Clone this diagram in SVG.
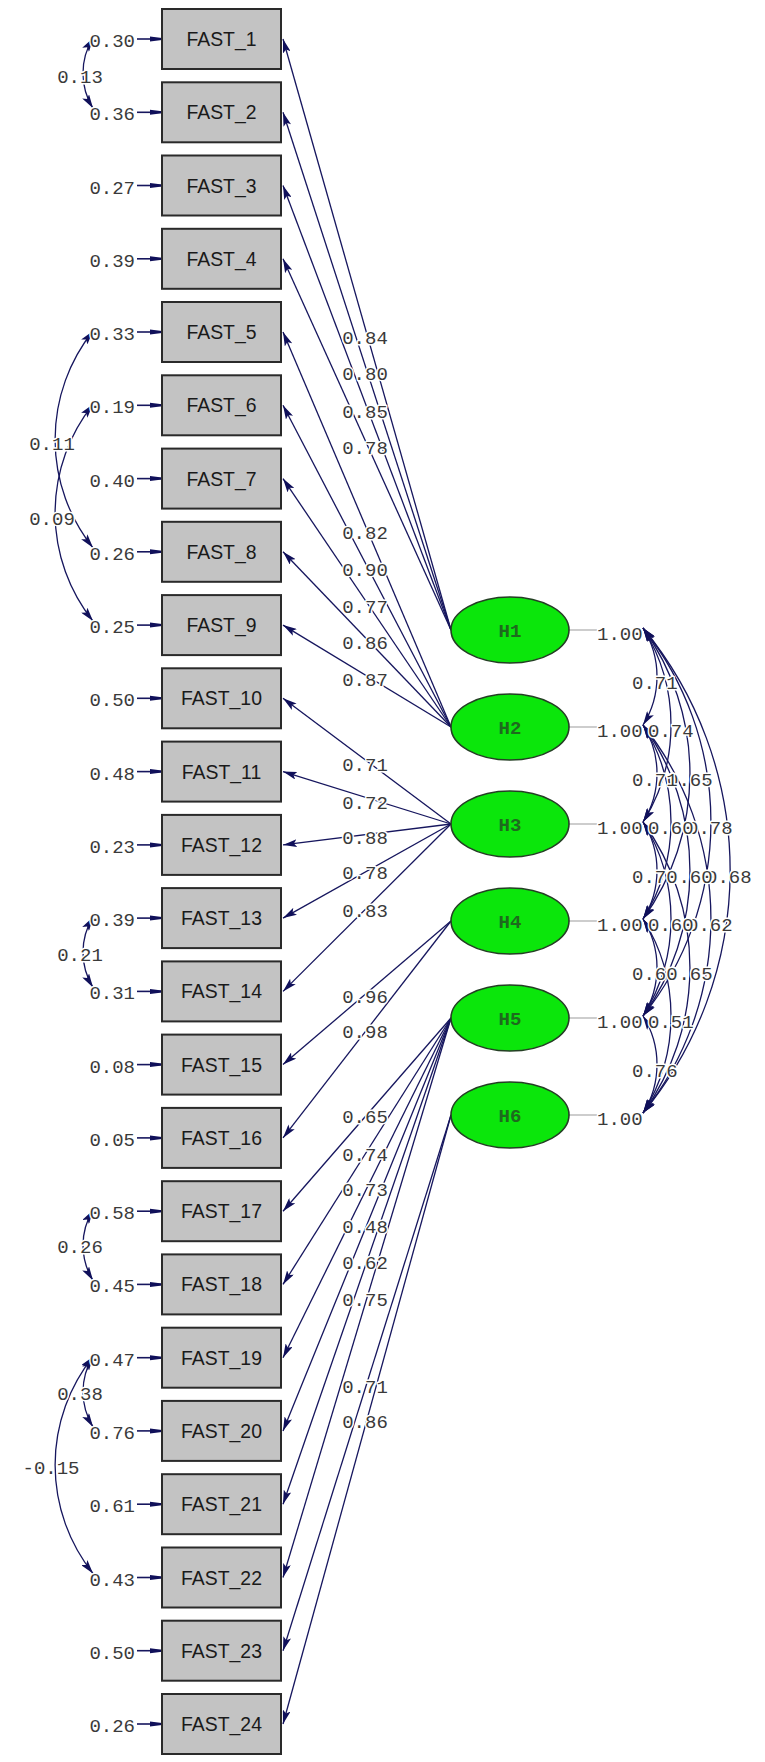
<svg xmlns="http://www.w3.org/2000/svg" width="765" height="1762" viewBox="0 0 765 1762">
<defs>
<style>
.box{fill:#c3c3c3;stroke:#2a2a2a;stroke-width:2}
.bt{font-family:"Liberation Sans",Arial,sans-serif;font-size:19.4px;fill:#1a1a1a;text-anchor:middle}
.lat{fill:#0be60b;stroke:#243f24;stroke-width:1.6}
.lt{font-family:"Liberation Mono","Courier New",monospace;font-weight:bold;font-size:19px;fill:#1e6a1e;text-anchor:middle}
.ld{stroke:#16165e;stroke-width:1.3;fill:none}
.ev{stroke:#16165e;stroke-width:1.6;fill:none}
.cv{stroke:#16165e;stroke-width:1.3;fill:none}
.vl{stroke:#bdbdbd;stroke-width:1.5}
.n{font-family:"Liberation Mono","Courier New",monospace;font-size:19px;fill:#3a3a3a;stroke:#fff;stroke-width:3;paint-order:stroke;stroke-linejoin:round}
.m{text-anchor:middle}
.e{text-anchor:end}
</style>
<marker id="ah" viewBox="0 0 14 8" refX="14" refY="4" markerWidth="14" markerHeight="8" markerUnits="userSpaceOnUse" orient="auto"><path d="M0,0 L14,4 L0,8 L3,4 z" fill="#10105a"/></marker>
<marker id="ab" viewBox="0 0 14 8" refX="14" refY="4" markerWidth="14" markerHeight="8" markerUnits="userSpaceOnUse" orient="auto-start-reverse"><path d="M0,0 L14,4 L0,8 L3,4 z" fill="#10105a"/></marker>
<marker id="es" viewBox="0 0 12 6" refX="12" refY="3" markerWidth="12" markerHeight="6" markerUnits="userSpaceOnUse" orient="auto"><path d="M0,0.5 L12,2 L12,4 L0,5.5 z" fill="#10105a"/></marker>
</defs>
<rect width="765" height="1762" fill="#fff"/>
<g id="connectors">
<!-- loadings -->
<line class="ld" marker-end="url(#ah)" x1="451" y1="630" x2="283" y2="39"/>
<line class="ld" marker-end="url(#ah)" x1="451" y1="630" x2="283" y2="112.3"/>
<line class="ld" marker-end="url(#ah)" x1="451" y1="630" x2="283" y2="185.5"/>
<line class="ld" marker-end="url(#ah)" x1="451" y1="630" x2="283" y2="258.8"/>
<line class="ld" marker-end="url(#ah)" x1="451" y1="727" x2="283" y2="332"/>
<line class="ld" marker-end="url(#ah)" x1="451" y1="727" x2="283" y2="405.3"/>
<line class="ld" marker-end="url(#ah)" x1="451" y1="727" x2="283" y2="478.6"/>
<line class="ld" marker-end="url(#ah)" x1="451" y1="727" x2="283" y2="551.8"/>
<line class="ld" marker-end="url(#ah)" x1="451" y1="727" x2="283" y2="625.1"/>
<line class="ld" marker-end="url(#ah)" x1="451" y1="824" x2="283" y2="698.3"/>
<line class="ld" marker-end="url(#ah)" x1="451" y1="824" x2="283" y2="771.6"/>
<line class="ld" marker-end="url(#ah)" x1="451" y1="824" x2="283" y2="844.9"/>
<line class="ld" marker-end="url(#ah)" x1="451" y1="824" x2="283" y2="918.1"/>
<line class="ld" marker-end="url(#ah)" x1="451" y1="824" x2="283" y2="991.4"/>
<line class="ld" marker-end="url(#ah)" x1="451" y1="921" x2="283" y2="1064.6"/>
<line class="ld" marker-end="url(#ah)" x1="451" y1="921" x2="283" y2="1137.9"/>
<line class="ld" marker-end="url(#ah)" x1="451" y1="1018" x2="283" y2="1211.2"/>
<line class="ld" marker-end="url(#ah)" x1="451" y1="1018" x2="283" y2="1284.4"/>
<line class="ld" marker-end="url(#ah)" x1="451" y1="1018" x2="283" y2="1357.7"/>
<line class="ld" marker-end="url(#ah)" x1="451" y1="1018" x2="283" y2="1430.9"/>
<line class="ld" marker-end="url(#ah)" x1="451" y1="1018" x2="283" y2="1504.2"/>
<line class="ld" marker-end="url(#ah)" x1="451" y1="1018" x2="283" y2="1577.5"/>
<line class="ld" marker-end="url(#ah)" x1="451" y1="1115" x2="283" y2="1650.7"/>
<line class="ld" marker-end="url(#ah)" x1="451" y1="1115" x2="283" y2="1724"/>
<!-- error arrows -->
<line class="ev" marker-end="url(#es)" x1="137" y1="39" x2="162" y2="39"/>
<line class="ev" marker-end="url(#es)" x1="137" y1="112.3" x2="162" y2="112.3"/>
<line class="ev" marker-end="url(#es)" x1="137" y1="185.5" x2="162" y2="185.5"/>
<line class="ev" marker-end="url(#es)" x1="137" y1="258.8" x2="162" y2="258.8"/>
<line class="ev" marker-end="url(#es)" x1="137" y1="332" x2="162" y2="332"/>
<line class="ev" marker-end="url(#es)" x1="137" y1="405.3" x2="162" y2="405.3"/>
<line class="ev" marker-end="url(#es)" x1="137" y1="478.6" x2="162" y2="478.6"/>
<line class="ev" marker-end="url(#es)" x1="137" y1="551.8" x2="162" y2="551.8"/>
<line class="ev" marker-end="url(#es)" x1="137" y1="625.1" x2="162" y2="625.1"/>
<line class="ev" marker-end="url(#es)" x1="137" y1="698.3" x2="162" y2="698.3"/>
<line class="ev" marker-end="url(#es)" x1="137" y1="771.6" x2="162" y2="771.6"/>
<line class="ev" marker-end="url(#es)" x1="137" y1="844.9" x2="162" y2="844.9"/>
<line class="ev" marker-end="url(#es)" x1="137" y1="918.1" x2="162" y2="918.1"/>
<line class="ev" marker-end="url(#es)" x1="137" y1="991.4" x2="162" y2="991.4"/>
<line class="ev" marker-end="url(#es)" x1="137" y1="1064.6" x2="162" y2="1064.6"/>
<line class="ev" marker-end="url(#es)" x1="137" y1="1137.9" x2="162" y2="1137.9"/>
<line class="ev" marker-end="url(#es)" x1="137" y1="1211.2" x2="162" y2="1211.2"/>
<line class="ev" marker-end="url(#es)" x1="137" y1="1284.4" x2="162" y2="1284.4"/>
<line class="ev" marker-end="url(#es)" x1="137" y1="1357.7" x2="162" y2="1357.7"/>
<line class="ev" marker-end="url(#es)" x1="137" y1="1430.9" x2="162" y2="1430.9"/>
<line class="ev" marker-end="url(#es)" x1="137" y1="1504.2" x2="162" y2="1504.2"/>
<line class="ev" marker-end="url(#es)" x1="137" y1="1577.5" x2="162" y2="1577.5"/>
<line class="ev" marker-end="url(#es)" x1="137" y1="1650.7" x2="162" y2="1650.7"/>
<line class="ev" marker-end="url(#es)" x1="137" y1="1724" x2="162" y2="1724"/>
<!-- error covariances -->
<path class="cv" marker-start="url(#ab)" marker-end="url(#ab)" d="M93,38 A66.8,66.8 0 0 0 93,108.3"/>
<path class="cv" marker-start="url(#ab)" marker-end="url(#ab)" d="M93,331 A174,174 0 0 0 93,547.8"/>
<path class="cv" marker-start="url(#ab)" marker-end="url(#ab)" d="M93,404.3 A174,174 0 0 0 93,621.1"/>
<path class="cv" marker-start="url(#ab)" marker-end="url(#ab)" d="M93,917.1 A66.8,66.8 0 0 0 93,987.4"/>
<path class="cv" marker-start="url(#ab)" marker-end="url(#ab)" d="M93,1210.2 A66.8,66.8 0 0 0 93,1280.4"/>
<path class="cv" marker-start="url(#ab)" marker-end="url(#ab)" d="M93,1356.7 A66.8,66.8 0 0 0 93,1426.9"/>
<path class="cv" marker-start="url(#ab)" marker-end="url(#ab)" d="M93,1356.7 A174,174 0 0 0 93,1573.5"/>
<!-- latent variance lines -->
<line class="vl" x1="569" y1="630" x2="597" y2="630"/>
<line class="vl" x1="569" y1="727" x2="597" y2="727"/>
<line class="vl" x1="569" y1="824" x2="597" y2="824"/>
<line class="vl" x1="569" y1="921" x2="597" y2="921"/>
<line class="vl" x1="569" y1="1018" x2="597" y2="1018"/>
<line class="vl" x1="569" y1="1115" x2="597" y2="1115"/>
<!-- latent covariances -->
<path class="cv" marker-start="url(#ab)" marker-end="url(#ab)" d="M643,628 A91,91 0 0 1 643,725"/>
<path class="cv" marker-start="url(#ab)" marker-end="url(#ab)" d="M643,725 A91,91 0 0 1 643,822"/>
<path class="cv" marker-start="url(#ab)" marker-end="url(#ab)" d="M643,822 A91,91 0 0 1 643,919"/>
<path class="cv" marker-start="url(#ab)" marker-end="url(#ab)" d="M643,919 A91,91 0 0 1 643,1016"/>
<path class="cv" marker-start="url(#ab)" marker-end="url(#ab)" d="M643,1016 A91,91 0 0 1 643,1113"/>
<path class="cv" marker-start="url(#ab)" marker-end="url(#ab)" d="M643,628 A182,182 0 0 1 643,822"/>
<path class="cv" marker-start="url(#ab)" marker-end="url(#ab)" d="M643,725 A182,182 0 0 1 643,919"/>
<path class="cv" marker-start="url(#ab)" marker-end="url(#ab)" d="M643,822 A182,182 0 0 1 643,1016"/>
<path class="cv" marker-start="url(#ab)" marker-end="url(#ab)" d="M643,919 A182,182 0 0 1 643,1113"/>
<path class="cv" marker-start="url(#ab)" marker-end="url(#ab)" d="M643,628 A249,249 0 0 1 643,919"/>
<path class="cv" marker-start="url(#ab)" marker-end="url(#ab)" d="M643,725 A249,249 0 0 1 643,1016"/>
<path class="cv" marker-start="url(#ab)" marker-end="url(#ab)" d="M643,822 A249,249 0 0 1 643,1113"/>
<path class="cv" marker-start="url(#ab)" marker-end="url(#ab)" d="M643,628 A311,311 0 0 1 643,1016"/>
<path class="cv" marker-start="url(#ab)" marker-end="url(#ab)" d="M643,725 A311,311 0 0 1 643,1113"/>
<path class="cv" marker-start="url(#ab)" marker-end="url(#ab)" d="M643,628 A381,381 0 0 1 643,1113"/>
<!-- loading labels -->
<g class="n m">
<text x="365" y="344">0.84</text>
<text x="365" y="380">0.80</text>
<text x="365" y="418">0.85</text>
<text x="365" y="454">0.78</text>
<text x="365" y="539">0.82</text>
<text x="365" y="576">0.90</text>
<text x="365" y="613">0.77</text>
<text x="365" y="649">0.86</text>
<text x="365" y="686">0.87</text>
<text x="365" y="771">0.71</text>
<text x="365" y="809">0.72</text>
<text x="365" y="844">0.88</text>
<text x="365" y="879">0.78</text>
<text x="365" y="917">0.83</text>
<text x="365" y="1003">0.96</text>
<text x="365" y="1038">0.98</text>
<text x="365" y="1123">0.65</text>
<text x="365" y="1161">0.74</text>
<text x="365" y="1196">0.73</text>
<text x="365" y="1233">0.48</text>
<text x="365" y="1269">0.62</text>
<text x="365" y="1306">0.75</text>
<text x="365" y="1393">0.71</text>
<text x="365" y="1428">0.86</text>
</g>
<!-- error variance labels -->
<g class="n e">
<text x="135" y="47">0.30</text>
<text x="135" y="120.3">0.36</text>
<text x="135" y="193.5">0.27</text>
<text x="135" y="266.8">0.39</text>
<text x="135" y="340">0.33</text>
<text x="135" y="413.3">0.19</text>
<text x="135" y="486.6">0.40</text>
<text x="135" y="559.8">0.26</text>
<text x="135" y="633.1">0.25</text>
<text x="135" y="706.3">0.50</text>
<text x="135" y="779.6">0.48</text>
<text x="135" y="852.9">0.23</text>
<text x="135" y="926.1">0.39</text>
<text x="135" y="999.4">0.31</text>
<text x="135" y="1072.6">0.08</text>
<text x="135" y="1145.9">0.05</text>
<text x="135" y="1219.2">0.58</text>
<text x="135" y="1292.4">0.45</text>
<text x="135" y="1365.7">0.47</text>
<text x="135" y="1438.9">0.76</text>
<text x="135" y="1512.2">0.61</text>
<text x="135" y="1585.5">0.43</text>
<text x="135" y="1658.7">0.50</text>
<text x="135" y="1732">0.26</text>
</g>
<!-- error covariance labels -->
<g class="n m">
<text x="80" y="83">0.13</text>
<text x="52" y="450">0.11</text>
<text x="52" y="525">0.09</text>
<text x="80" y="961">0.21</text>
<text x="80" y="1253">0.26</text>
<text x="80" y="1400">0.38</text>
<text x="51" y="1474">-0.15</text>
</g>
<!-- latent variance & covariance labels -->
<g class="n">
<text x="597" y="640">1.00</text>
<text x="597" y="737">1.00</text>
<text x="597" y="834">1.00</text>
<text x="597" y="931">1.00</text>
<text x="597" y="1028">1.00</text>
<text x="597" y="1125">1.00</text>
<text x="632" y="689">0.71</text>
<text x="667" y="786">0.65</text>
<text x="632" y="786">0.71</text>
<text x="706" y="883">0.68</text>
<text x="667" y="883">0.60</text>
<text x="632" y="883">0.70</text>
<text x="667" y="980">0.65</text>
<text x="632" y="980">0.60</text>
<text x="632" y="1077">0.76</text>
<text x="648" y="737">0.74</text>
<text x="687" y="834">0.78</text>
<text x="648" y="834">0.60</text>
<text x="687" y="931">0.62</text>
<text x="648" y="931">0.60</text>
<text x="648" y="1028">0.51</text>
</g>
</g>
<g id="fast_1" transform="translate(162,9)"><rect class="box" width="119" height="60"/><text class="bt" x="59.5" y="37">FAST_1</text></g>
<g id="fast_2" transform="translate(162,82.3)"><rect class="box" width="119" height="60"/><text class="bt" x="59.5" y="37">FAST_2</text></g>
<g id="fast_3" transform="translate(162,155.5)"><rect class="box" width="119" height="60"/><text class="bt" x="59.5" y="37">FAST_3</text></g>
<g id="fast_4" transform="translate(162,228.8)"><rect class="box" width="119" height="60"/><text class="bt" x="59.5" y="37">FAST_4</text></g>
<g id="fast_5" transform="translate(162,302)"><rect class="box" width="119" height="60"/><text class="bt" x="59.5" y="37">FAST_5</text></g>
<g id="fast_6" transform="translate(162,375.3)"><rect class="box" width="119" height="60"/><text class="bt" x="59.5" y="37">FAST_6</text></g>
<g id="fast_7" transform="translate(162,448.6)"><rect class="box" width="119" height="60"/><text class="bt" x="59.5" y="37">FAST_7</text></g>
<g id="fast_8" transform="translate(162,521.8)"><rect class="box" width="119" height="60"/><text class="bt" x="59.5" y="37">FAST_8</text></g>
<g id="fast_9" transform="translate(162,595.1)"><rect class="box" width="119" height="60"/><text class="bt" x="59.5" y="37">FAST_9</text></g>
<g id="fast_10" transform="translate(162,668.3)"><rect class="box" width="119" height="60"/><text class="bt" x="59.5" y="37">FAST_10</text></g>
<g id="fast_11" transform="translate(162,741.6)"><rect class="box" width="119" height="60"/><text class="bt" x="59.5" y="37">FAST_11</text></g>
<g id="fast_12" transform="translate(162,814.9)"><rect class="box" width="119" height="60"/><text class="bt" x="59.5" y="37">FAST_12</text></g>
<g id="fast_13" transform="translate(162,888.1)"><rect class="box" width="119" height="60"/><text class="bt" x="59.5" y="37">FAST_13</text></g>
<g id="fast_14" transform="translate(162,961.4)"><rect class="box" width="119" height="60"/><text class="bt" x="59.5" y="37">FAST_14</text></g>
<g id="fast_15" transform="translate(162,1034.6)"><rect class="box" width="119" height="60"/><text class="bt" x="59.5" y="37">FAST_15</text></g>
<g id="fast_16" transform="translate(162,1107.9)"><rect class="box" width="119" height="60"/><text class="bt" x="59.5" y="37">FAST_16</text></g>
<g id="fast_17" transform="translate(162,1181.2)"><rect class="box" width="119" height="60"/><text class="bt" x="59.5" y="37">FAST_17</text></g>
<g id="fast_18" transform="translate(162,1254.4)"><rect class="box" width="119" height="60"/><text class="bt" x="59.5" y="37">FAST_18</text></g>
<g id="fast_19" transform="translate(162,1327.7)"><rect class="box" width="119" height="60"/><text class="bt" x="59.5" y="37">FAST_19</text></g>
<g id="fast_20" transform="translate(162,1400.9)"><rect class="box" width="119" height="60"/><text class="bt" x="59.5" y="37">FAST_20</text></g>
<g id="fast_21" transform="translate(162,1474.2)"><rect class="box" width="119" height="60"/><text class="bt" x="59.5" y="37">FAST_21</text></g>
<g id="fast_22" transform="translate(162,1547.5)"><rect class="box" width="119" height="60"/><text class="bt" x="59.5" y="37">FAST_22</text></g>
<g id="fast_23" transform="translate(162,1620.7)"><rect class="box" width="119" height="60"/><text class="bt" x="59.5" y="37">FAST_23</text></g>
<g id="fast_24" transform="translate(162,1694)"><rect class="box" width="119" height="60"/><text class="bt" x="59.5" y="37">FAST_24</text></g>
<g id="h1"><ellipse class="lat" cx="510" cy="630" rx="59" ry="33"/><text class="lt" x="510" y="637">H1</text></g>
<g id="h2"><ellipse class="lat" cx="510" cy="727" rx="59" ry="33"/><text class="lt" x="510" y="734">H2</text></g>
<g id="h3"><ellipse class="lat" cx="510" cy="824" rx="59" ry="33"/><text class="lt" x="510" y="831">H3</text></g>
<g id="h4"><ellipse class="lat" cx="510" cy="921" rx="59" ry="33"/><text class="lt" x="510" y="928">H4</text></g>
<g id="h5"><ellipse class="lat" cx="510" cy="1018" rx="59" ry="33"/><text class="lt" x="510" y="1025">H5</text></g>
<g id="h6"><ellipse class="lat" cx="510" cy="1115" rx="59" ry="33"/><text class="lt" x="510" y="1122">H6</text></g>
</svg>
